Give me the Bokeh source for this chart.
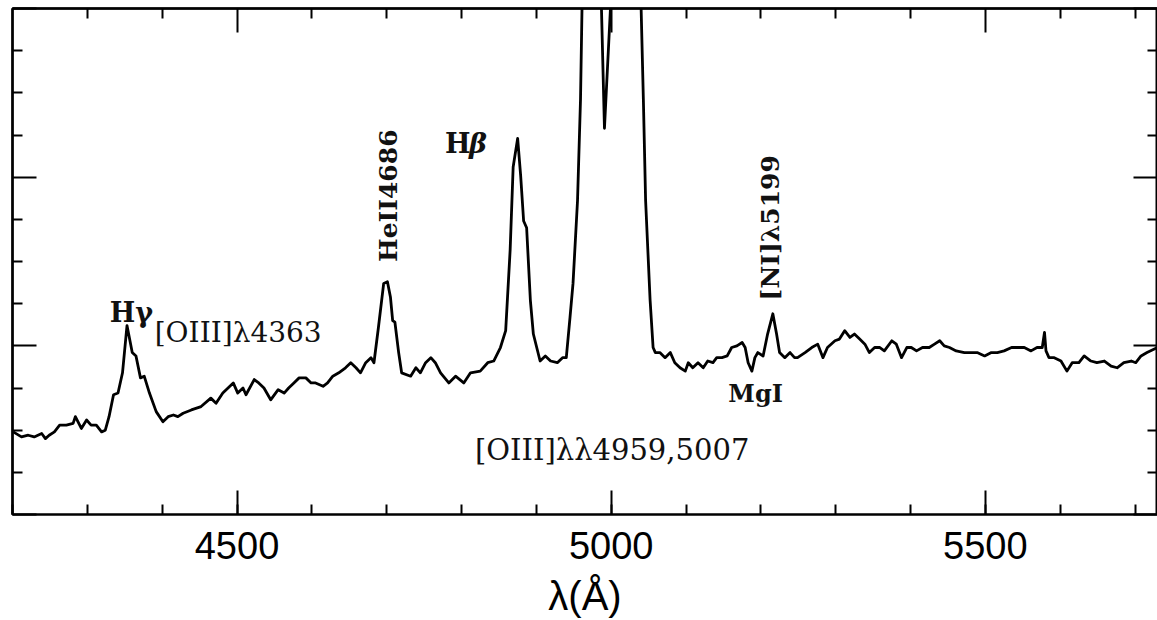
import numpy as np
from bokeh.plotting import figure
from bokeh.models import LinearAxis, SingleIntervalTicker, FixedTicker, Range1d, Label
from bokeh.embed import file_html
from bokeh.resources import INLINE

# ---- data: wavelength (Angstrom) and relative flux ----
wavelength = [
    4201, 4212, 4221, 4229, 4239, 4244, 4249, 4256, 4263, 4272, 4281, 4284, 4292, 4299, 4305, 4312,
    4319, 4324, 4329, 4335, 4341, 4347, 4353, 4360, 4365, 4371, 4376, 4383, 4392, 4401, 4408, 4415,
    4421, 4428, 4439, 4452, 4465, 4472, 4481, 4488, 4495, 4501, 4508, 4512, 4523, 4529, 4536, 4545,
    4555, 4563, 4569, 4576, 4583, 4592, 4599, 4605, 4615, 4621, 4628, 4636, 4645, 4652, 4659, 4665,
    4672, 4679, 4683, 4689, 4696, 4701, 4705, 4708, 4711, 4716, 4720, 4732, 4739, 4745, 4752, 4759,
    4765, 4772, 4783, 4792, 4803, 4812, 4825, 4835, 4843, 4852, 4859, 4865, 4869, 4875, 4879, 4883,
    4887, 4892, 4896, 4905, 4912, 4919, 4928, 4935, 4940, 4945, 4949, 4955, 4959, 4961, 4964, 4969,
    4974, 4980, 4985, 4987, 4991, 4999, 5003, 5009, 5019, 5030, 5036, 5040, 5043, 5046, 5052, 5056,
    5059, 5065, 5072, 5079, 5085, 5092, 5099, 5103, 5109, 5116, 5123, 5129, 5136, 5141, 5148, 5155,
    5161, 5168, 5175, 5179, 5183, 5188, 5192, 5196, 5203, 5209, 5216, 5221, 5225, 5232, 5239, 5245,
    5249, 5259, 5268, 5276, 5283, 5289, 5299, 5305, 5312, 5319, 5325, 5332, 5339, 5345, 5352, 5359,
    5365, 5375, 5381, 5388, 5395, 5401, 5408, 5416, 5425, 5432, 5439, 5445, 5452, 5461, 5472, 5481,
    5489, 5499, 5508, 5516, 5525, 5535, 5543, 5552, 5561, 5569, 5576, 5579, 5581, 5585, 5592, 5601,
    5609, 5616, 5625, 5632, 5641, 5649, 5659, 5668, 5676, 5685, 5695, 5701, 5708, 5716, 5730,
]
flux = [
    0.49, 0.46, 0.47, 0.46, 0.48, 0.45, 0.47, 0.49, 0.53, 0.53, 0.54, 0.58, 0.51, 0.56, 0.53, 0.53,
    0.49, 0.50, 0.58, 0.71, 0.72, 0.84, 1.12, 0.96, 0.94, 0.81, 0.82, 0.72, 0.61, 0.55, 0.58, 0.59,
    0.58, 0.60, 0.62, 0.64, 0.69, 0.66, 0.72, 0.75, 0.78, 0.72, 0.75, 0.71, 0.80, 0.78, 0.75, 0.68,
    0.74, 0.72, 0.75, 0.78, 0.81, 0.81, 0.78, 0.78, 0.76, 0.78, 0.82, 0.84, 0.87, 0.90, 0.87, 0.84,
    0.90, 0.93, 0.90, 1.11, 1.37, 1.38, 1.29, 1.15, 1.14, 0.96, 0.84, 0.82, 0.87, 0.84, 0.90, 0.93,
    0.90, 0.84, 0.78, 0.82, 0.78, 0.84, 0.85, 0.90, 0.91, 0.99, 1.09, 1.57, 2.06, 2.23, 2.01, 1.74,
    1.70, 1.27, 1.07, 0.91, 0.94, 0.91, 0.90, 0.93, 0.93, 1.17, 1.37, 1.86, 2.46, 3.00, 4.50, 5.60,
    6.00, 5.60, 4.50, 3.00, 2.29, 3.00, 4.50, 12.0, 17.0, 12.0, 4.50, 3.00, 2.46, 1.86, 1.27, 0.99,
    0.96, 0.96, 0.93, 0.96, 0.90, 0.87, 0.85, 0.90, 0.87, 0.90, 0.87, 0.91, 0.90, 0.93, 0.93, 0.94,
    0.99, 1.00, 1.02, 0.99, 0.90, 0.85, 0.93, 0.96, 0.94, 1.07, 1.19, 1.07, 0.96, 0.93, 0.96, 0.93,
    0.93, 0.96, 0.99, 1.01, 0.93, 0.99, 1.03, 1.04, 1.09, 1.05, 1.07, 1.04, 1.01, 0.96, 0.99, 0.99,
    0.97, 1.03, 1.01, 0.93, 0.99, 0.99, 0.97, 0.99, 0.99, 1.01, 1.03, 1.00, 0.99, 0.97, 0.96, 0.96,
    0.96, 0.94, 0.96, 0.96, 0.97, 0.99, 0.99, 0.99, 0.97, 0.99, 0.99, 1.08, 0.97, 0.93, 0.93, 0.91,
    0.85, 0.90, 0.90, 0.94, 0.91, 0.90, 0.91, 0.88, 0.87, 0.90, 0.91, 0.90, 0.94, 0.96, 0.99,
]
x_tick_labels = ["4500", "5000", "5500"]
x_axis_title = "λ(Å)"
line_ids = ["Hγ", "[OIII]λ4363", "HeII4686", "H", "β", "[OIII]λλ4959,5007", "[NI]λ5199", "MgI"]

X0, X1 = 4200, 5730
Y0, Y1 = 0, 3

# ---- figure ----
p = figure(width=1157, height=620, x_range=Range1d(X0, X1), y_range=Range1d(Y0, Y1),
           output_backend="svg", toolbar_location=None,
           min_border_left=12, min_border_right=0, min_border_top=8, min_border_bottom=106)
p.grid.visible = False
p.outline_line_color = "black"
p.outline_line_width = 2
p.background_fill_color = "white"
p.border_fill_color = "white"

p.line(wavelength, flux, line_color="black", line_width=2.8, line_join="round")

SANS = "Liberation Sans"

def base(ax):
    ax.axis_line_color = "black"
    ax.axis_line_width = 2
    ax.major_tick_out = 0
    ax.minor_tick_out = 0
    ax.major_tick_line_width = 2
    ax.minor_tick_line_width = 2
    ax.major_tick_line_color = "black"
    ax.minor_tick_line_color = "black"

def tick_only(ticks, length, side):
    # axis that draws only (minor-type) tick marks pointing into the frame, no labels
    ax = LinearAxis(ticker=FixedTicker(ticks=[], minor_ticks=list(ticks)))
    base(ax)
    ax.minor_tick_in = length
    ax.major_tick_in = 0
    ax.axis_label = None
    p.add_layout(ax, side)
    return ax

x_major = np.arange(4500, 5501, 500)
x_minor = [float(v) for v in np.arange(4300, X1, 100) if v % 500 != 0]
y_major = [float(v) for v in np.arange(Y0, Y1 + 1, 1)]
y_minor = [float(v) for v in np.arange(0.25, Y1, 0.25) if abs(v - round(v)) > 1e-9]

# bottom axis with labels
bx = p.xaxis[0]
bx.ticker = SingleIntervalTicker(interval=500, num_minor_ticks=5)
base(bx)
bx.major_tick_in = 24
bx.minor_tick_in = 10
bx.major_label_overrides = {int(v): s for v, s in zip(x_major, x_tick_labels)}
bx.major_label_text_font = SANS
bx.major_label_text_font_size = "38px"
bx.major_label_text_color = "black"
bx.major_label_standoff = 17
bx.axis_label = x_axis_title
bx.axis_label_text_font = SANS
bx.axis_label_text_font_size = "40px"
bx.axis_label_text_font_style = "normal"
bx.axis_label_text_color = "black"
bx.axis_label_standoff = 12

# left axis: only ticks
ly = p.yaxis[0]
ly.ticker = FixedTicker(ticks=[], minor_ticks=y_major)
base(ly)
ly.minor_tick_in = 24
ly.major_tick_in = 0
tick_only(y_minor, 10, "left")

# top and right: only ticks
tick_only([float(v) for v in x_major], 24, "above")
tick_only(x_minor, 10, "above")
tick_only(y_major, 24, "right")
tick_only(y_minor, 10, "right")

serif = "DejaVu Serif"
def lab(x, y, text, size, style="bold", angle=0.0, align="left", baseline="alphabetic", xoff=0):
    p.add_layout(Label(x=x, y=y, text=text, text_font=serif, text_font_size=size,
                       text_font_style=style, angle=angle, text_align=align,
                       text_baseline=baseline, x_offset=xoff, text_color="#111111"))

lab(4330, 1.20, line_ids[0], "27px")
lab(4390, 1.08, line_ids[1], "28px", style="normal", baseline="middle")
lab(4702, 1.89, line_ids[2], "25px", angle=1.5708, align="center", baseline="middle")
lab(4778, 2.20, line_ids[3], "27px")
lab(4778, 2.20, line_ids[4], "27px", style="bold italic", xoff=24)
lab(4818, 0.38, line_ids[5], "29px", style="normal", baseline="middle")
lab(5213, 1.70, line_ids[6], "25px", angle=1.5708, align="center", baseline="middle")
lab(5193, 0.72, line_ids[7], "24px", align="center")

open("out.html", "w").write(file_html(p, INLINE))
